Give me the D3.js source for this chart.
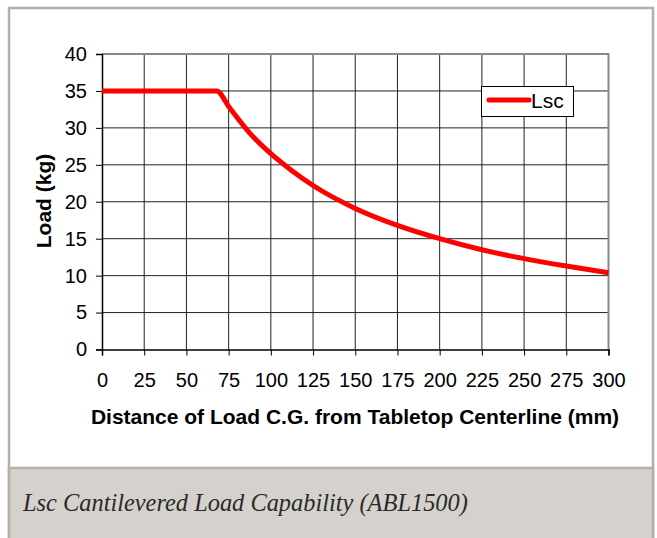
<!DOCTYPE html>
<html lang="en">
  <head>
    <meta charset="utf-8">
    <title>Lsc Cantilevered Load Capability</title>
    <script src="https://d3js.org/d3.v7.js"></script>
    <style>
      body { margin: 0; background: #fff; }
    </style>
  </head>
  <body>
    <script>

  // size of the page
  var w = 657;
  var h = 538;

  // data
  var distances = [0, 68, 75, 87.5, 100, 112.5, 125, 150, 175, 200, 225, 250, 275, 300];
  var loads = [35, 35, 32.9, 29.3, 26.5, 24.2, 22.2, 19.1, 16.8, 15.0, 13.5, 12.3, 11.3, 10.4];
  var xTicks = [0, 25, 50, 75, 100, 125, 150, 175, 200, 225, 250, 275, 300];
  var yTicks = [0, 5, 10, 15, 20, 25, 30, 35, 40];
  var seriesName = "Lsc";
  var caption = "Lsc Cantilevered Load Capability (ABL1500)";

  var points = distances.map((d, i) => ({ x: d, y: loads[i] }));

  // plot area
  var pLeft = 102, pRight = 608.5, pTop = 54, pBottom = 349.5;
  var sans = "Liberation Sans, Arial, sans-serif";

  var xScale = d3.scaleLinear().domain([0, 300]).range([pLeft, pRight]);
  var yScale = d3.scaleLinear().domain([0, 40]).range([pBottom, pTop]);

  var svg = d3.select("body")
    .append("svg")
    .attr("width", w)
    .attr("height", h)
    .style("display", "block");

  // outer frame and caption band
  svg.append("rect")
    .attr("x", 9).attr("y", 8)
    .attr("width", 644).attr("height", 540)
    .attr("fill", "#fff")
    .attr("stroke", "#b3afa7")
    .attr("stroke-width", 2.5);

  svg.append("rect")
    .attr("x", 9).attr("y", 468)
    .attr("width", 644).attr("height", 80)
    .attr("fill", "#d5d2cd")
    .attr("stroke", "#b3afa7")
    .attr("stroke-width", 2.5);

  svg.append("text")
    .attr("x", 23).attr("y", 511)
    .attr("font-family", "Liberation Serif, Times New Roman, serif")
    .attr("font-style", "italic")
    .attr("font-size", 24.4)
    .attr("fill", "#2a2a2a")
    .text(caption);

  // grid
  svg.append("g")
    .selectAll("line")
    .data(yTicks.slice(1))
    .enter()
    .append("line")
    .attr("x1", pLeft).attr("x2", pRight)
    .attr("y1", d => yScale(d)).attr("y2", d => yScale(d))
    .attr("stroke", "#222")
    .attr("stroke-width", 1);

  svg.append("g")
    .selectAll("line")
    .data(xTicks.slice(1))
    .enter()
    .append("line")
    .attr("x1", d => xScale(d)).attr("x2", d => xScale(d))
    .attr("y1", pTop).attr("y2", pBottom)
    .attr("stroke", "#222")
    .attr("stroke-width", 1);

  // plot border top and right
  svg.append("path")
    .attr("d", "M" + pLeft + "," + pTop + "H" + pRight + "V" + pBottom)
    .attr("fill", "none")
    .attr("stroke", "#888")
    .attr("stroke-width", 2);

  // axes
  var xAxis = svg.append("g")
    .attr("transform", "translate(0," + pBottom + ")")
    .call(d3.axisBottom(xScale).tickValues(xTicks).tickSizeOuter(0).tickSize(6).tickPadding(17));

  var yAxis = svg.append("g")
    .attr("transform", "translate(" + pLeft + ",0)")
    .call(d3.axisLeft(yScale).tickValues(yTicks).tickSizeOuter(0).tickSize(6).tickPadding(9));

  [xAxis, yAxis].forEach(a => {
    a.select(".domain").attr("stroke", "#000").attr("stroke-width", 1.5);
    a.selectAll(".tick line").attr("stroke", "#000");
    a.selectAll("text")
      .attr("font-family", sans)
      .attr("font-size", 20)
      .attr("fill", "#000");
  });

  // axis titles
  svg.append("text")
    .attr("x", 355).attr("y", 424)
    .attr("text-anchor", "middle")
    .attr("font-family", sans)
    .attr("font-weight", "bold")
    .attr("font-size", 21)
    .text("Distance of Load C.G. from Tabletop Centerline (mm)");

  svg.append("text")
    .attr("transform", "translate(43,201) rotate(-90)")
    .attr("text-anchor", "middle")
    .attr("dominant-baseline", "central")
    .attr("font-family", sans)
    .attr("font-weight", "bold")
    .attr("font-size", 21)
    .text("Load (kg)");

  // the curve
  var line = d3.line()
    .x(d => xScale(d.x))
    .y(d => yScale(d.y))
    .curve(d3.curveMonotoneX);

  svg.append("path")
    .datum(points)
    .attr("d", line)
    .attr("fill", "none")
    .attr("stroke", "#ff0000")
    .attr("stroke-width", 5)
    .attr("stroke-linejoin", "round");

  // legend
  var legend = svg.append("g");
  legend.append("rect")
    .attr("x", 481.5).attr("y", 86.5)
    .attr("width", 92).attr("height", 30)
    .attr("fill", "#fff")
    .attr("stroke", "#000")
    .attr("stroke-width", 1);
  legend.append("line")
    .attr("x1", 489).attr("x2", 529)
    .attr("y1", 100).attr("y2", 100)
    .attr("stroke", "#ff0000")
    .attr("stroke-width", 5)
    .attr("stroke-linecap", "round");
  legend.append("text")
    .attr("x", 531).attr("y", 108)
    .attr("font-family", sans)
    .attr("font-size", 21)
    .text(seriesName);

    </script>
  </body>
</html>
